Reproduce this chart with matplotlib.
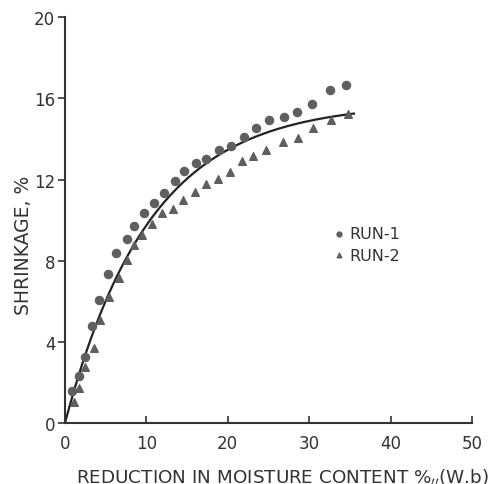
import numpy as np
import matplotlib
matplotlib.use("Agg")
import matplotlib.pyplot as plt

# RUN-1 (circles)
run1_x = [0.82, 1.76, 2.46, 3.28, 4.21, 5.32, 6.23, 7.58, 8.48, 9.71, 10.97, 12.19, 13.51,
          14.65, 16.05, 17.32, 18.92, 20.36, 21.99, 23.43, 25.06, 26.87, 28.50, 30.38, 32.56, 34.52]
run1_y = [1.59, 2.33, 3.24, 4.76, 6.07, 7.34, 8.36, 9.09, 9.72, 10.33, 10.87, 11.33, 11.91,
          12.40, 12.81, 13.00, 13.46, 13.66, 14.10, 14.52, 14.96, 15.10, 15.34, 15.75, 16.41, 16.65]

# RUN-2 (triangles)
run2_x = [1.11, 1.76, 2.46, 3.60, 4.30, 5.44, 6.60, 7.58, 8.44, 9.46, 10.72, 11.92, 13.23,
          14.46, 16.00, 17.29, 18.83, 20.27, 21.78, 23.13, 24.65, 26.74, 28.62, 30.50, 32.65, 34.80]
run2_y = [1.02, 1.72, 2.74, 3.72, 5.08, 6.19, 7.13, 8.03, 8.79, 9.29, 9.80, 10.33, 10.56,
          10.98, 11.37, 11.77, 12.02, 12.38, 12.92, 13.17, 13.46, 13.86, 14.04, 14.55, 14.93, 15.21]

x_ticks = [0, 10, 20, 30, 40, 50]
y_ticks = [0, 4, 8, 12, 16, 20]

# fit y = a*(1 - exp(-b*x)) to both runs together (simple grid search over b)
xs = np.array(run1_x + run2_x)
ys = np.array(run1_y + run2_y)
best = None
for b in np.linspace(0.01, 0.3, 600):
    g = 1 - np.exp(-b * xs)
    a = np.dot(g, ys) / np.dot(g, g)
    err = np.sum((ys - a * g) ** 2)
    if best is None or err < best[0]:
        best = (err, a, b)
_, a_fit, b_fit = best
x_line = np.linspace(0, 35.5, 200)
y_line = a_fit * (1 - np.exp(-b_fit * x_line))

fig = plt.figure(figsize=(5.01, 4.85), dpi=100)
ax = fig.add_axes([65 / 501, 61 / 485, 407 / 501, 405.7 / 485])

ax.plot(x_line, y_line, color="#222222", lw=1.6, zorder=2)
ax.scatter(run1_x, run1_y, s=34, marker="o", color="#5f5f5f", label="RUN-1", zorder=3)
ax.scatter(run2_x, run2_y, s=30, marker="^", color="#5f5f5f", label="RUN-2", zorder=3)

ax.set_xlim(0, 50)
ax.set_ylim(0, 20)
ax.set_xticks(x_ticks)
ax.set_yticks(y_ticks)
ax.spines["top"].set_visible(False)
ax.spines["right"].set_visible(False)
for s in ("left", "bottom"):
    ax.spines[s].set_linewidth(1.5)
    ax.spines[s].set_color("#333333")
ax.tick_params(axis="x", direction="in", length=5, width=1.2, labelsize=12,
               colors="#333333", pad=8)
ax.tick_params(axis="y", direction="out", length=5, width=1.2, labelsize=12,
               colors="#333333", pad=2)

ax.set_xlabel("REDUCTION IN MOISTURE CONTENT %$_{\\prime\\prime}$(W.b)", fontsize=13.2,
              color="#333333", va="center")
ax.xaxis.set_label_coords(0.535, -0.13)
ax.set_ylabel("SHRINKAGE, %", fontsize=13.5, color="#333333", va="center")
ax.yaxis.set_label_coords(-0.102, 0.44)

ax.legend(loc="center left", bbox_to_anchor=(0.635, 0.44), frameon=False, fontsize=11.5,
          markerscale=0.6, handletextpad=0.1, handlelength=1.0, labelspacing=0.4,
          borderpad=0, labelcolor="#333333")

fig.savefig("out.png", dpi=100)
